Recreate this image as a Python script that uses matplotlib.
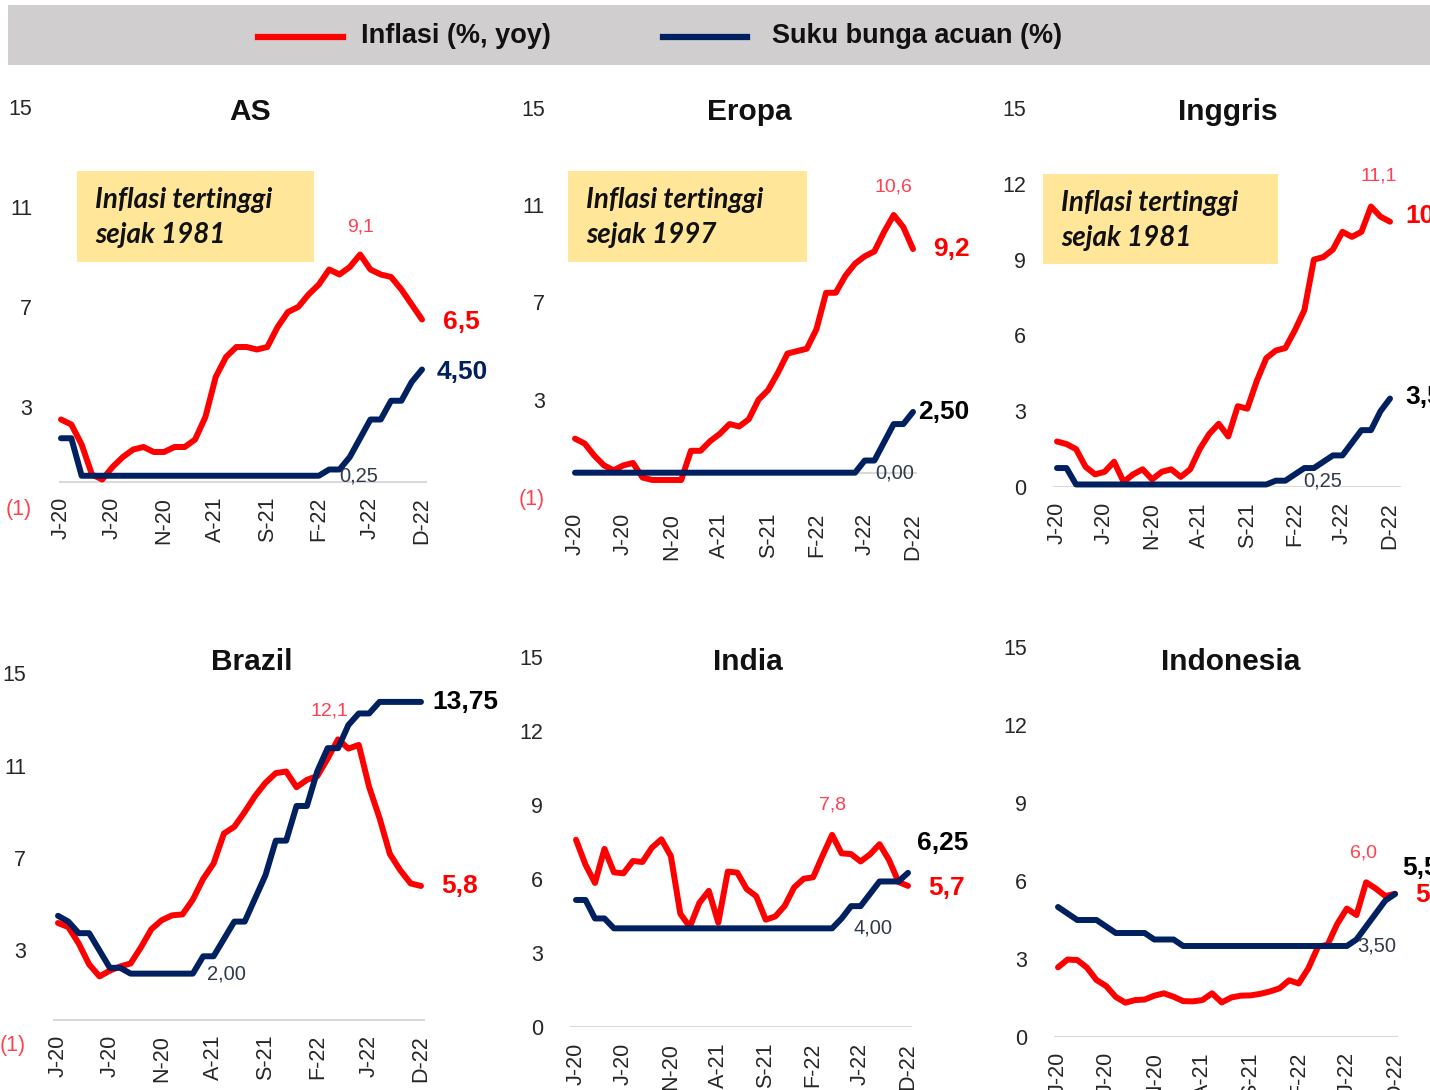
import matplotlib
matplotlib.use("Agg")
import matplotlib.pyplot as plt
from matplotlib.patches import Rectangle
from matplotlib.lines import Line2D

W, H = 1430, 1090

# ------------------------------------------------------------
# Data (monthly, Jan 2020 - Dec 2022)
# ------------------------------------------------------------
months = list(range(36))
tick_idx = [0, 5, 10, 15, 20, 25, 30, 35]
tick_labels = ["J-20", "J-20", "N-20", "A-21", "S-21", "F-22", "J-22", "D-22"]

as_cpi = [2.5, 2.3, 1.5, 0.3, 0.1, 0.6, 1.0, 1.3, 1.4, 1.2, 1.2, 1.4,
          1.4, 1.7, 2.6, 4.2, 5.0, 5.4, 5.4, 5.3, 5.4, 6.2, 6.8, 7.0,
          7.5, 7.9, 8.5, 8.3, 8.6, 9.1, 8.5, 8.3, 8.2, 7.7, 7.1, 6.5]
as_rate = [1.75, 1.75, 0.25, 0.25, 0.25, 0.25, 0.25, 0.25, 0.25, 0.25, 0.25, 0.25,
           0.25, 0.25, 0.25, 0.25, 0.25, 0.25, 0.25, 0.25, 0.25, 0.25, 0.25, 0.25,
           0.25, 0.25, 0.50, 0.50, 1.00, 1.75, 2.50, 2.50, 3.25, 3.25, 4.00, 4.50]

eu_cpi = [1.4, 1.2, 0.7, 0.3, 0.1, 0.3, 0.4, -0.2, -0.3, -0.3, -0.3, -0.3,
          0.9, 0.9, 1.3, 1.6, 2.0, 1.9, 2.2, 3.0, 3.4, 4.1, 4.9, 5.0,
          5.1, 5.9, 7.4, 7.4, 8.1, 8.6, 8.9, 9.1, 9.9, 10.6, 10.1, 9.2]
eu_rate = [0.0] * 30 + [0.50, 0.50, 1.25, 2.00, 2.00, 2.50]

uk_cpi = [1.8, 1.7, 1.5, 0.8, 0.5, 0.6, 1.0, 0.2, 0.5, 0.7, 0.3, 0.6,
          0.7, 0.4, 0.7, 1.5, 2.1, 2.5, 2.0, 3.2, 3.1, 4.2, 5.1, 5.4,
          5.5, 6.2, 7.0, 9.0, 9.1, 9.4, 10.1, 9.9, 10.1, 11.1, 10.7, 10.5]
uk_rate = [0.75, 0.75, 0.10, 0.10, 0.10, 0.10, 0.10, 0.10, 0.10, 0.10, 0.10, 0.10,
           0.10, 0.10, 0.10, 0.10, 0.10, 0.10, 0.10, 0.10, 0.10, 0.10, 0.10, 0.25,
           0.25, 0.50, 0.75, 0.75, 1.00, 1.25, 1.25, 1.75, 2.25, 2.25, 3.00, 3.50]

br_cpi = [4.19, 4.01, 3.30, 2.40, 1.88, 2.13, 2.31, 2.44, 3.14, 3.92, 4.31, 4.52,
          4.56, 5.20, 6.10, 6.76, 8.06, 8.35, 8.99, 9.68, 10.25, 10.67, 10.74, 10.06,
          10.38, 10.54, 11.30, 12.13, 11.73, 11.89, 10.07, 8.73, 7.17, 6.47, 5.90, 5.79]
br_rate = [4.50, 4.25, 3.75, 3.75, 3.00, 2.25, 2.25, 2.00, 2.00, 2.00, 2.00, 2.00,
           2.00, 2.00, 2.75, 2.75, 3.50, 4.25, 4.25, 5.25, 6.25, 7.75, 7.75, 9.25,
           9.25, 10.75, 11.75, 11.75, 12.75, 13.25, 13.25, 13.75, 13.75, 13.75, 13.75, 13.75]

in_cpi = [7.59, 6.58, 5.84, 7.22, 6.27, 6.23, 6.73, 6.69, 7.27, 7.61, 6.93, 4.59,
          4.06, 5.03, 5.52, 4.23, 6.30, 6.26, 5.59, 5.30, 4.35, 4.48, 4.91, 5.66,
          6.01, 6.07, 6.95, 7.79, 7.04, 7.01, 6.71, 7.00, 7.41, 6.77, 5.88, 5.72]
in_rate = [5.15, 5.15, 4.40, 4.40, 4.00, 4.00, 4.00, 4.00, 4.00, 4.00, 4.00, 4.00,
           4.00, 4.00, 4.00, 4.00, 4.00, 4.00, 4.00, 4.00, 4.00, 4.00, 4.00, 4.00,
           4.00, 4.00, 4.00, 4.00, 4.40, 4.90, 4.90, 5.40, 5.90, 5.90, 5.90, 6.25]

id_cpi = [2.68, 2.98, 2.96, 2.67, 2.19, 1.96, 1.54, 1.32, 1.42, 1.44, 1.59, 1.68,
          1.55, 1.38, 1.37, 1.42, 1.68, 1.33, 1.52, 1.59, 1.60, 1.66, 1.75, 1.87,
          2.18, 2.06, 2.64, 3.47, 3.55, 4.35, 4.94, 4.69, 5.95, 5.71, 5.42, 5.51]
id_rate = [5.00, 4.75, 4.50, 4.50, 4.50, 4.25, 4.00, 4.00, 4.00, 4.00, 3.75, 3.75,
           3.75, 3.50, 3.50, 3.50, 3.50, 3.50, 3.50, 3.50, 3.50, 3.50, 3.50, 3.50,
           3.50, 3.50, 3.50, 3.50, 3.50, 3.50, 3.50, 3.75, 4.25, 4.75, 5.25, 5.50]

legend_labels = ["Inflasi (%, yoy)", "Suku bunga acuan (%)"]

# ------------------------------------------------------------
# Style
# ------------------------------------------------------------
RED = "#FF0000"
NAVY = "#002060"
PEAK = "#FF4050"
MINC = "#2F3B4C"
TICK = "#262626"
BOX = "#FFE699"
NARROW = ["Liberation Sans Narrow", "Liberation Sans", "DejaVu Sans"]
SANS = ["Liberation Sans", "DejaVu Sans"]
NOTE = ["Lato", "Open Sans", "DejaVu Sans"]

plt.rcParams["font.family"] = SANS


def fx(x):
    return x / W


def fy(y):
    return 1 - y / H


def fmt(v, nd):
    return f"{v:.{nd}f}".replace(".", ",")


panels = [
    dict(title="AS", cpi=as_cpi, rate=as_rate, box=(59, 427, 107, 507), first=61, last=422,
         ylim=(-1, 15), yticks=[-1, 3, 7, 11, 15], xpad=-10, title_xy=(250, 112),
         note=("Inflasi tertinggi", "sejak 1981", (77, 171, 314, 262)),
         peak_off=(0, 27), min_idx=25, min_off=(20, 0),
         cpi_off=(21, -3), rate_off=(15, -3), rate_col=NAVY),
    dict(title="Eropa", cpi=eu_cpi, rate=eu_rate, box=(572, 917, 108, 497), first=575, last=913,
         ylim=(-1, 15), yticks=[-1, 3, 7, 11, 15], xpad=16, title_xy=(749, 112),
         note=("Inflasi tertinggi", "sejak 1997", (568, 171, 807, 262)),
         peak_off=(0, 28), min_idx=29, min_off=(20, 0),
         cpi_off=(20, 0), rate_off=(5, 0), rate_col="black"),
    dict(title="Inggris", cpi=uk_cpi, rate=uk_rate, box=(1053, 1401, 108, 487), first=1057, last=1390,
         ylim=(0, 15), yticks=[0, 3, 6, 9, 12, 15], xpad=15, title_xy=(1228, 112),
         note=("Inflasi tertinggi", "sejak 1981", (1043, 174, 1278, 264)),
         peak_off=(8, 31), min_idx=24, min_off=(18, 0),
         cpi_off=(15, 6), rate_off=(15, 2), rate_col="black"),
    dict(title="Brazil", cpi=br_cpi, rate=br_rate, box=(53, 425, 673, 1043), first=58, last=421,
         ylim=(-1, 15), yticks=[-1, 3, 7, 11, 15], xpad=-8, title_xy=(252, 662),
         note=None, peak_off=(-9, 28), min_idx=13, min_off=(14, 0),
         cpi_off=(20, 0), rate_off=(11, 0), rate_col="black"),
    dict(title="India", cpi=in_cpi, rate=in_rate, box=(570, 912, 657, 1027), first=576, last=908,
         ylim=(0, 15), yticks=[0, 3, 6, 9, 12, 15], xpad=16, title_xy=(748, 662),
         note=None, peak_off=(0, 30), min_idx=27, min_off=(21, 0),
         cpi_off=(20, -2), rate_off=(9, 30), rate_col="black"),
    dict(title="Indonesia", cpi=id_cpi, rate=id_rate, box=(1054, 1398, 647, 1037), first=1058, last=1395,
         ylim=(0, 15), yticks=[0, 3, 6, 9, 12, 15], xpad=15, title_xy=(1231, 662),
         note=None, peak_off=(-3, 29), min_idx=30, min_off=(10, 0),
         cpi_off=(20, -1), rate_off=(7, 26), rate_col="black"),
]

fig = plt.figure(figsize=(W / 100, H / 100), dpi=100)
fig.patch.set_facecolor("white")

# legend strip
fig.patches.append(Rectangle((fx(8), fy(65)), fx(1430 - 8), 60 / H, transform=fig.transFigure,
                             facecolor="#D0CECE", edgecolor="none"))
fig.lines.append(Line2D([fx(258), fx(343)], [fy(37), fy(37)], transform=fig.transFigure,
                        color=RED, lw=4.5))
fig.lines.append(Line2D([fx(663), fx(747)], [fy(37), fy(37)], transform=fig.transFigure,
                        color=NAVY, lw=4.5))
fig.text(fx(361), fy(36), legend_labels[0], family=NARROW, weight="bold", size=19.5,
         ha="left", va="center", color="#111111")
fig.text(fx(772), fy(36), legend_labels[1], family=NARROW, weight="bold", size=19.5,
         ha="left", va="center", color="#111111")

for p in panels:
    x0, x1, yt, yb = p["box"]
    ax = fig.add_axes([fx(x0), fy(yb), (x1 - x0) / W, (yb - yt) / H])
    ppx = (p["last"] - p["first"]) / 35
    ax.set_xlim(-(p["first"] - x0) / ppx, 35 + (x1 - p["last"]) / ppx)
    ax.set_ylim(*p["ylim"])
    for s in ax.spines.values():
        s.set_visible(False)
    ax.patch.set_alpha(0)
    ax.axhline(0, color="#D9D9D9", lw=1.5, zorder=1)

    ax.plot(months, p["cpi"], color=RED, lw=4.3, solid_capstyle="round",
            solid_joinstyle="round", zorder=3, clip_on=False)
    ax.plot(months, p["rate"], color=NAVY, lw=4.3, solid_capstyle="round",
            solid_joinstyle="round", zorder=4, clip_on=False)

    ax.set_yticks(p["yticks"])
    ylabels = [f"({-t})" if t < 0 else str(t) for t in p["yticks"]]
    ax.set_yticklabels(ylabels)
    ax.tick_params(axis="y", length=0, pad=27 * 0.72, labelsize=15.5, labelcolor=TICK)
    for t, lab in zip(p["yticks"], ax.get_yticklabels()):
        if t < 0:
            lab.set_color(PEAK)
    ax.set_xticks(tick_idx)
    ax.set_xticklabels(tick_labels, rotation=90)
    ax.tick_params(axis="x", length=0, pad=p["xpad"] * 0.72, labelsize=15.5, labelcolor=TICK)

    # title
    fig.text(fx(p["title_xy"][0]), fy(p["title_xy"][1]), p["title"], family=NARROW,
             weight="bold", size=21.5, ha="center", va="center", color="#111111")

    # note box
    if p["note"]:
        l1, l2, (bx0, by0, bx1, by1) = p["note"]
        fig.patches.append(Rectangle((fx(bx0), fy(by1)), (bx1 - bx0) / W, (by1 - by0) / H,
                                     transform=fig.transFigure, facecolor=BOX,
                                     edgecolor="none", zorder=0))
        fig.text(fx(bx0 + 18), fy(by0 + 29), l1, family=NOTE, weight="bold", style="italic",
                 size=20, ha="left", va="center", color="#111111")
        fig.text(fx(bx0 + 18), fy(by0 + 64), l2, family=NOTE, weight="bold", style="italic",
                 size=20, ha="left", va="center", color="#111111")

    # peak of inflation
    cpi = p["cpi"]
    ipk = max(range(36), key=lambda i: cpi[i])
    ax.annotate(fmt(cpi[ipk], 1), xy=(ipk, cpi[ipk]), xytext=p["peak_off"],
                textcoords="offset pixels", ha="center", va="center", size=14,
                color=PEAK, zorder=2, annotation_clip=False)

    # low point of policy rate
    rate = p["rate"]
    im = p["min_idx"]
    ax.annotate(fmt(rate[im], 2), xy=(im, rate[im]), xytext=p["min_off"],
                textcoords="offset pixels", ha="left", va="center", size=14.5,
                color=MINC, zorder=5, annotation_clip=False)

    # last values
    ax.annotate(fmt(cpi[-1], 1), xy=(35, cpi[-1]), xytext=p["cpi_off"],
                textcoords="offset pixels", ha="left", va="center", size=19,
                weight="bold", color=RED, zorder=5, annotation_clip=False)
    ax.annotate(fmt(rate[-1], 2), xy=(35, rate[-1]), xytext=p["rate_off"],
                textcoords="offset pixels", ha="left", va="center", size=19,
                weight="bold", color=p["rate_col"], zorder=5, annotation_clip=False)

fig.savefig("out.png", dpi=100)
